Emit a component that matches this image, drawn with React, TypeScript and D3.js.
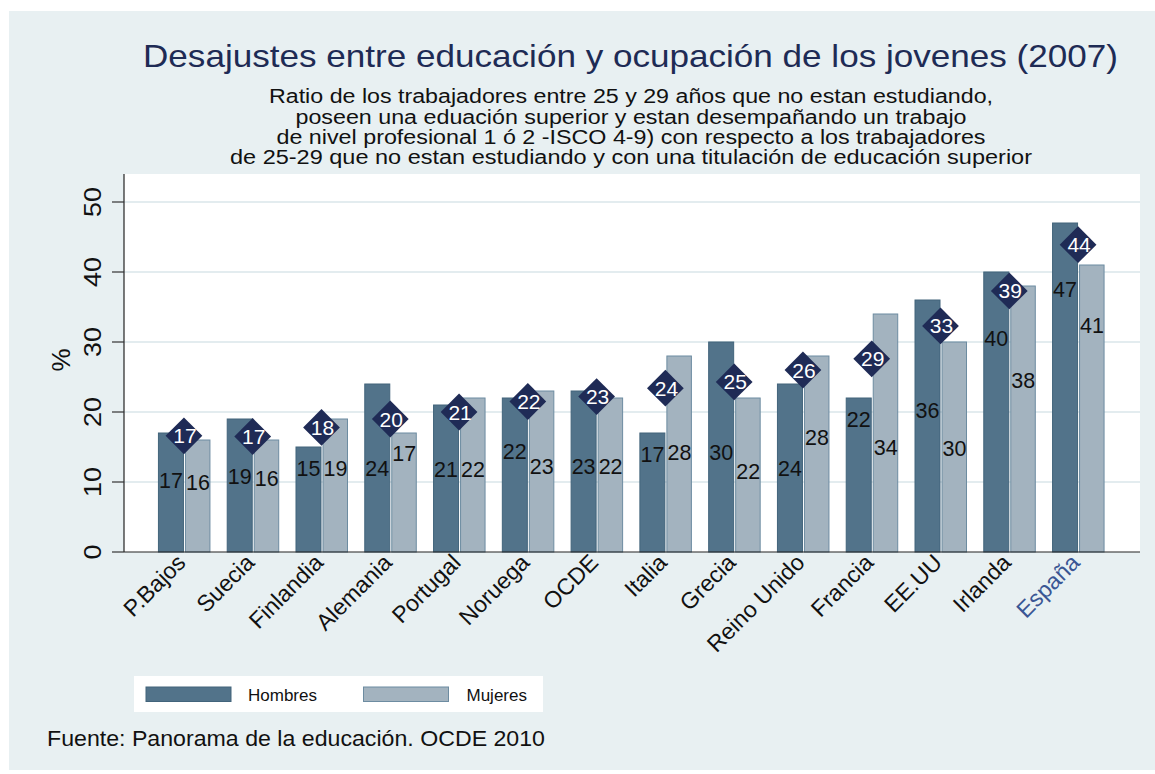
import React from "react";
import * as d3 from "d3";

const categories = ["P.Bajos", "Suecia", "Finlandia", "Alemania", "Portugal", "Noruega", "OCDE", "Italia", "Grecia", "Reino Unido", "Francia", "EE.UU", "Irlanda", "España"];
const hombres = [17, 19, 15, 24, 21, 22, 23, 17, 30, 24, 22, 36, 40, 47];
const mujeres = [16, 16, 19, 17, 22, 23, 22, 28, 22, 28, 34, 30, 38, 41];
// total ratio: printed label and vertical position of the diamond marker
const totalLabels = [17, 17, 18, 20, 21, 22, 23, 24, 25, 26, 29, 33, 39, 44];
const totalPos = [16.6, 16.5, 17.8, 19.0, 20.0, 21.5, 22.2, 23.4, 24.3, 26.0, 27.6, 32.3, 37.3, 43.9];
// vertical positions (in %) of the printed bar value labels
const hombresLabelPos = [10.3, 10.8, 12.0, 11.9, 11.8, 14.4, 12.2, 14.0, 14.3, 12.0, 19.0, 20.3, 30.5, 37.5];
const mujeresLabelPos = [9.9, 10.5, 11.9, 14.1, 11.8, 12.2, 12.2, 14.3, 11.5, 16.4, 15.0, 14.8, 24.6, 32.4];
const yTicks = [0, 10, 20, 30, 40, 50];
const seriesNames = ["Hombres", "Mujeres"];

const title = "Desajustes entre educación y ocupación de los jovenes (2007)";
const subtitle = [
  "Ratio de los trabajadores entre 25 y 29 años que no estan estudiando,",
  "poseen una eduación superior y estan desempañando un trabajo",
  "de nivel profesional 1 ó 2 -ISCO 4-9) con respecto a los trabajadores",
  "de  25-29 que no estan estudiando y con una titulación de educación superior",
];
const subtitleLengths = [724, 671, 709, 802];
const note = "Fuente: Panorama de la educación. OCDE 2010";

const FONT = "'Liberation Sans', Arial, Helvetica, sans-serif";
const C_H = "#52738a";
const C_H_STROKE = "#42647b";
const C_M = "#a3b3bf";
const C_M_STROKE = "#6d8ca1";
const C_DIAMOND = "#1f2b56";
const BG = "#e8f0f2";
const GRID = "#e3ecef";

export default function App() {
  const W = 1155, H = 774;
  const plot = { left: 124, right: 1140, top: 174, bottom: 552 };
  const y = d3.scaleLinear().domain([0, 54]).range([plot.bottom, plot.bottom - 54 * 7]);
  const x = d3.scalePoint<string>().domain(categories).range([plot.left, plot.right]).padding(0.886);
  const diamond = d3.symbol().type(d3.symbolSquare).size(26 * 26)();

  return (
    <svg width={W} height={H} style={{ position: "absolute", left: 0, top: 0 }} fontFamily={FONT}>
      <rect x={9} y={11} width={W - 9} height={759} fill={BG} />
      <rect x={plot.left} y={plot.top} width={plot.right - plot.left} height={plot.bottom - plot.top} fill="#ffffff" />
      {/* gridlines */}
      {yTicks.filter((t) => t > 0).map((t) => (
        <line key={"g" + t} x1={plot.left} x2={plot.right} y1={y(t)} y2={y(t)} stroke={GRID} strokeWidth={2} />
      ))}
      {/* title */}
      <text x={143} y={67} fontSize={30.5} fill="#1e2b55" textLength={975} lengthAdjust="spacingAndGlyphs">{title}</text>
      {subtitle.map((s, i) => (
        <text key={"s" + i} x={631 - subtitleLengths[i] / 2} y={103.3 + i * 20.3} fontSize={20} fill="#111"
          textLength={subtitleLengths[i]} lengthAdjust="spacingAndGlyphs">{s}</text>
      ))}
      {/* bars */}
      {categories.map((c, i) => {
        const cx = x(c)!;
        return (
          <g key={"b" + c}>
            <rect x={cx - 26.5} y={y(hombres[i])} width={25} height={y(0) - y(hombres[i])} fill={C_H} stroke={C_H_STROKE} strokeWidth={1} />
            <rect x={cx + 0.5} y={y(mujeres[i])} width={24.5} height={y(0) - y(mujeres[i])} fill={C_M} stroke={C_M_STROKE} strokeWidth={1} />
          </g>
        );
      })}
      {/* bar value labels */}
      {categories.map((c, i) => {
        const cx = x(c)!;
        return (
          <g key={"l" + c} fontSize={21.5} fill="#111" textAnchor="middle">
            <text x={cx - 14} y={y(hombresLabelPos[i])} dy="0.36em">{hombres[i]}</text>
            <text x={cx + 13} y={y(mujeresLabelPos[i])} dy="0.36em">{mujeres[i]}</text>
          </g>
        );
      })}
      {/* diamonds */}
      {categories.map((c, i) => {
        const cx = x(c)!;
        const cy = y(totalPos[i]);
        return (
          <g key={"d" + c} transform={`translate(${cx - 1},${cy})`}>
            <path d={diamond!} transform="rotate(45)" fill={C_DIAMOND} />
            <text x={1} y={0} dy="0.36em" textAnchor="middle" fontSize={21} fill="#ffffff">{totalLabels[i]}</text>
          </g>
        );
      })}
      {/* axes */}
      <line x1={plot.left} x2={plot.left} y1={plot.top} y2={plot.bottom} stroke="#222" strokeWidth={1.2} />
      <line x1={plot.left} x2={plot.right} y1={plot.bottom} y2={plot.bottom} stroke="#222" strokeWidth={1.2} />
      {yTicks.map((t) => (
        <g key={"t" + t}>
          <line x1={112} x2={plot.left} y1={y(t)} y2={y(t)} stroke="#333" strokeWidth={1.2} />
          <text transform={`translate(101,${y(t)}) rotate(-90)`} textAnchor="middle" fontSize={24} fill="#111"
            textLength={String(t).length * 15} lengthAdjust="spacingAndGlyphs">{t}</text>
        </g>
      ))}
      <text transform={`translate(70,360) rotate(-90)`} textAnchor="middle" fontSize={26} fill="#111">%</text>
      {/* x labels */}
      {categories.map((c) => (
        <text key={"x" + c} transform={`translate(${x(c)! + 2},564) rotate(-45)`} textAnchor="end" fontSize={23}
          fill={c === "España" ? "#3a5694" : "#111"}>{c}</text>
      ))}
      {/* legend */}
      <rect x={134} y={676} width={409} height={36} fill="#ffffff" />
      {seriesNames.map((s, i) => (
        <g key={"lg" + s}>
          <rect x={146 + i * 217.5} y={687} width={85} height={14.5} fill={i === 0 ? C_H : C_M} stroke={i === 0 ? C_H_STROKE : C_M_STROKE} strokeWidth={1} />
          <text x={248 + i * 218.5} y={700.5} fontSize={17} fill="#111">{s}</text>
        </g>
      ))}
      <text x={47} y={746} fontSize={22} fill="#111" textLength={498} lengthAdjust="spacingAndGlyphs">{note}</text>
    </svg>
  );
}
